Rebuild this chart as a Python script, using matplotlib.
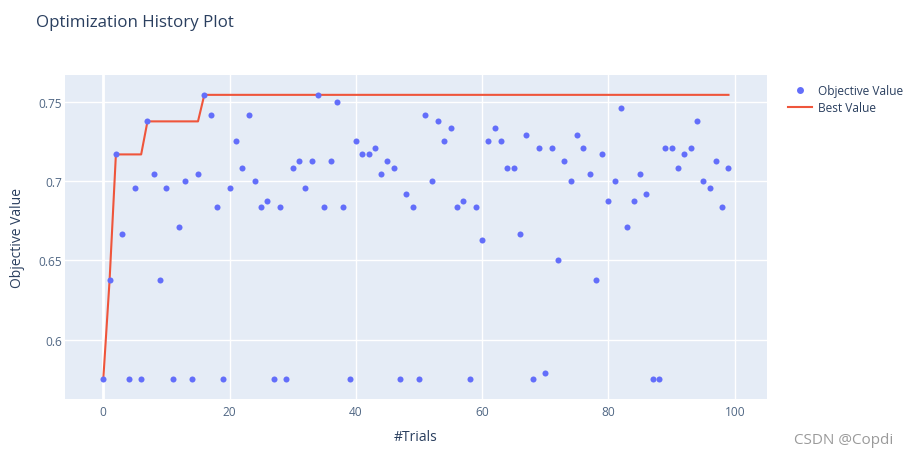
import numpy as np
import matplotlib.pyplot as plt
from matplotlib.lines import Line2D

# Objective values per trial
trials = np.arange(100)
objective = [
    0.5750, 0.6375, 0.7167, 0.6667, 0.5750, 0.6958, 0.5750, 0.7375, 0.7042, 0.6375,
    0.6958, 0.5750, 0.6708, 0.7000, 0.5750, 0.7042, 0.7542, 0.7417, 0.6833, 0.5750,
    0.6958, 0.7250, 0.7083, 0.7417, 0.7000, 0.6833, 0.6875, 0.5750, 0.6833, 0.5750,
    0.7083, 0.7125, 0.6958, 0.7125, 0.7542, 0.6833, 0.7125, 0.7500, 0.6833, 0.5750,
    0.7250, 0.7167, 0.7167, 0.7208, 0.7042, 0.7125, 0.7083, 0.5750, 0.6917, 0.6833,
    0.5750, 0.7417, 0.7000, 0.7375, 0.7250, 0.7333, 0.6833, 0.6875, 0.5750, 0.6833,
    0.6625, 0.7250, 0.7333, 0.7250, 0.7083, 0.7083, 0.6667, 0.7292, 0.5750, 0.7208,
    0.5792, 0.7208, 0.6500, 0.7125, 0.7000, 0.7292, 0.7208, 0.7042, 0.6375, 0.7167,
    0.6875, 0.7000, 0.7458, 0.6708, 0.6875, 0.7042, 0.6917, 0.5750, 0.5750, 0.7208,
    0.7208, 0.7083, 0.7167, 0.7208, 0.7375, 0.7000, 0.6958, 0.7125, 0.6833, 0.7083,
]
best = np.maximum.accumulate(objective)

x_ticks = [0, 20, 40, 60, 80, 100]
y_ticks = [0.6, 0.65, 0.7, 0.75]
y_tick_labels = ["0.6", "0.65", "0.7", "0.75"]

plt.rcParams['font.family'] = ['Open Sans', 'DejaVu Sans']

fig = plt.figure(figsize=(9.08, 4.6), dpi=100)
ax = fig.add_axes([65 / 908, 60 / 460, 702 / 908, 324 / 460])
ax.set_facecolor('#e5ecf6')

ax.scatter(trials, objective, s=19, color='#636efa', linewidths=0, zorder=3,
           label="Objective Value")
ax.plot(trials, best, color='#ef553b', lw=1.5, zorder=2, label="Best Value")

ax.set_xlim(-6.06, 105.1)
ax.set_ylim(0.5627, 0.7667)
ax.set_xticks(x_ticks)
ax.set_yticks(y_ticks)
ax.set_yticklabels(y_tick_labels)
ax.grid(color='white', lw=1, zorder=0)
ax.set_axisbelow(True)
ax.axvline(0, color='white', lw=2, zorder=1)
for s in ax.spines.values():
    s.set_visible(False)
ax.tick_params(length=0, labelsize=8.6, colors='#506784', pad=4)
ax.tick_params(axis='y', pad=2)

ax.set_xlabel("#Trials", fontsize=10, color='#2a3f5f', labelpad=8)
ax.set_ylabel("Objective Value", fontsize=10, color='#2a3f5f', labelpad=10)
fig.text(36 / 908, 1 - 23 / 460, "Optimization History Plot", fontsize=12.2,
         color='#2a3f5f', va='center')

handles = [
    Line2D([], [], ls='none', marker='o', ms=5, color='#636efa', mec='none'),
    Line2D([], [], color='#ef553b', lw=1.5),
]
fig.legend(handles, ["Objective Value", "Best Value"], loc='upper left',
           bbox_to_anchor=(783 / 908, 1 - 80 / 460), frameon=False,
           fontsize=8.6, labelcolor='#2a3f5f', handlelength=2.0,
           handletextpad=0.5, labelspacing=0.35, borderaxespad=0)

fig.text(893 / 908, 1 - 441 / 460, "CSDN @Copdi", fontsize=11,
         color='#9a9a9a', ha='right', va='center')

fig.savefig("out.png", dpi=100)
